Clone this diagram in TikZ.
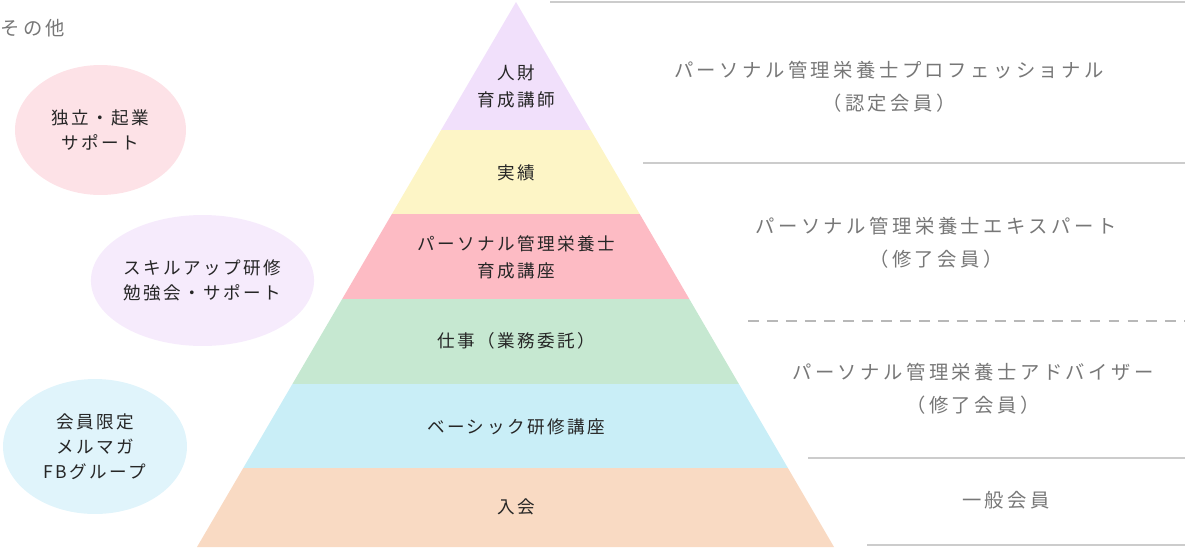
\documentclass[tikz,border=0pt]{standalone}
\usepackage{fontspec}
\setmainfont{Noto Sans CJK JP}
\newfontfamily\tierfont[LetterSpace=14]{Noto Sans CJK JP}
\newfontfamily\rankfont[LetterSpace=18]{Noto Sans CJK JP}
\usetikzlibrary{positioning,shapes.geometric}
% band colours
\definecolor{bandA}{HTML}{F1E0FB}
\definecolor{bandB}{HTML}{FDF5C6}
\definecolor{bandC}{HTML}{FDBBC4}
\definecolor{bandD}{HTML}{C6E8D1}
\definecolor{bandE}{HTML}{C9EEF7}
\definecolor{bandF}{HTML}{F9DAC3}
% bubble colours
\definecolor{bubA}{HTML}{FDE2E7}
\definecolor{bubB}{HTML}{F6EBFC}
\definecolor{bubC}{HTML}{E0F4FB}
\definecolor{rankgray}{HTML}{777777}
\definecolor{sepgray}{HTML}{CCCCCC}

\begin{document}
\begin{tikzpicture}[x=0.02cm,y=-0.02cm,
  tier/.style={font=\tierfont\fontsize{10}{15.3}\selectfont, text=black!85, align=center, inner sep=0pt},
  rank/.style={font=\rankfont\fontsize{11}{18.7}\selectfont, text=rankgray, align=center, inner sep=0pt},
  bubble/.style={ellipse, inner sep=0pt, align=center, text=black!85,
    font=\tierfont\fontsize{10}{14.2}\selectfont},
  sep/.style={draw=sepgray, line width=0.6pt}]
	%% frame of the picture
	\useasboundingbox (0,0) rectangle (1185,548);

	\def\apexX{516} % top of the pyramid
	\def\baseY{547} % base line

	% the pyramid, cut into six bands
	\begin{scope}
		\clip (\apexX,2) -- (834,\baseY) -- (197,\baseY) -- cycle;
		\fill[bandA] (190,0) rectangle (840,130);
		\fill[bandB] (190,130) rectangle (840,214);
		\fill[bandC] (190,214) rectangle (840,299);
		\fill[bandD] (190,299) rectangle (840,384);
		\fill[bandE] (190,384) rectangle (840,468);
		\fill[bandF] (190,468) rectangle (840,548);
	\end{scope}

	\node[tier] (trainer) at (\apexX,86) {人財\\育成講師};
	\node[tier] (result) at (\apexX,173) {実績};
	\node[tier] (course) at (\apexX,257) {パーソナル管理栄養士\\育成講座};
	\node[tier] (work) at (\apexX,341) {仕事（業務委託）};
	\node[tier] (basic) at (\apexX,427) {ベーシック研修講座};
	\node[tier] (join) at (\apexX,507) {入会};

	% separators on the right
	\draw[sep] (550,2) -- (1185,2);
	\draw[sep] (643,163) -- (1185,163);
	\draw[draw=black!28, line width=1.1pt, dash pattern=on 6.2pt off 4.6pt] (748,321) -- (1185,321);
	\draw[sep] (808,458) -- (1185,458);
	\draw[sep] (867,545) -- (1185,545);

	\node[rank] (pro) at (889,87) {パーソナル管理栄養士プロフェッショナル\\（認定会員）};
	\node[rank] (expert) at (936,243) {パーソナル管理栄養士エキスパート\\（修了会員）};
	\node[rank] (adviser) at (973,389) {パーソナル管理栄養士アドバイザー\\（修了会員）};
	\node[rank] (member) at (1006,500) {一般会員};

	% the other services
	\node[rank, anchor=west] (other) at (0,28) {その他};
	\node[bubble, fill=bubA, minimum width=3.42cm, minimum height=2.6cm] (support) at (100.5,130) {独立・起業\\サポート};
	\node[bubble, fill=bubB, minimum width=4.42cm, minimum height=2.62cm] (skill) at (202.5,280.5) {スキルアップ研修\\勉強会・サポート};
	\node[bubble, fill=bubC, minimum width=3.68cm, minimum height=2.7cm] (mail) at (95,446.5) {会員限定\\メルマガ\\FBグループ};
\end{tikzpicture}
\end{document}
